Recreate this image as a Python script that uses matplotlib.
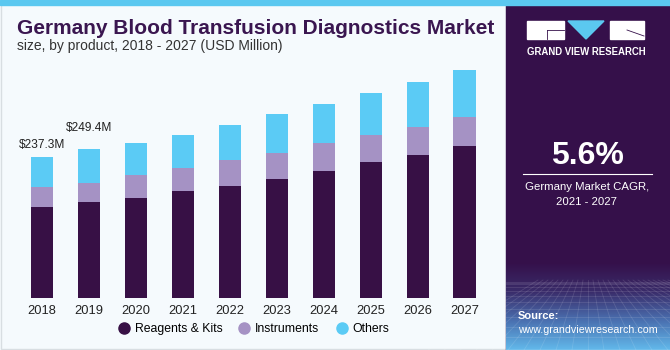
import numpy as np
import matplotlib.pyplot as plt
from matplotlib.patches import Rectangle, Polygon
from matplotlib.lines import Line2D
from matplotlib.colors import LinearSegmentedColormap

plt.rcParams['font.family'] = ['Liberation Sans', 'DejaVu Sans']

years = ["2018", "2019", "2020", "2021", "2022", "2023", "2024", "2025", "2026", "2027"]
reagents = [152.3, 160.7, 168.4, 179.2, 188.6, 200.3, 213.2, 227.8, 239.6, 255.2]
instruments = [34.1, 32.9, 38.1, 39.6, 42.6, 43.1, 47.0, 45.3, 47.5, 48.7]
others = [50.9, 55.8, 53.7, 54.4, 59.3, 65.0, 65.0, 70.5, 75.1, 79.4]
labels = {0: "$237.3M", 1: "$249.4M"}
label_gap = {0: 4, 1: 11}  # points above the bar

series_names = ["Reagents & Kits", "Instruments", "Others"]
colors = ["#371045", "#A592C4", "#5BCBF5"]

W, H = 670, 350
fig = plt.figure(figsize=(W / 100, H / 100), dpi=100)

# background layer in pixel coordinates
bg = fig.add_axes([0, 0, 1, 1])
bg.axis("off")
bg.add_patch(Rectangle((0, 0), W, H, color="#F5FAFD", zorder=0))
bg.add_patch(Rectangle((0.5, 4), 505, H - 5, fill=False, ec="#D8DEE2", lw=1, zorder=1))
bg.add_patch(Rectangle((0, 0), W, 4.5, color="#5BC8F0", zorder=2))
bg.add_patch(Rectangle((506, 4.5), W - 506, H - 4.5, color="#35104A", zorder=1))

# bottom gradient of the side panel
cmap = LinearSegmentedColormap.from_list("g", ["#35104A", "#3A2C6A", "#4A70B0", "#62B8EA"])
grad = np.linspace(0, 1, 100).reshape(-1, 1)
bg.imshow(grad, extent=(506, W, 350, 262), origin="upper", cmap=cmap, aspect="auto", zorder=2)
bg.set_xlim(0, W)
bg.set_ylim(H, 0)
for k in range(12):
    yy = 282 + k * k * 0.55
    bg.plot([506, W], [yy, yy], color="white", alpha=0.12, lw=0.6, zorder=3)
for k in range(-10, 22):
    bg.plot([588 + k * 5, 588 + k * 16], [280, 350], color="white", alpha=0.12, lw=0.6, zorder=3)

# logo
bg.add_patch(Rectangle((527, 21), 37, 18, color="white", zorder=4))
bg.plot([547, 564], [30, 30], color="#35104A", lw=0.6, zorder=5)
bg.plot([547, 547], [30, 39], color="#35104A", lw=0.6, zorder=5)
bg.add_patch(Polygon([(568, 21), (604, 21), (586, 39)], color="#5BC8F0", zorder=4))
bg.add_patch(Rectangle((610, 21), 34, 18, color="white", zorder=4))
bg.plot([627, 644], [30, 36], color="#35104A", lw=0.6, zorder=5)
bg.text(586, 52, "GRAND VIEW RESEARCH", color="white", fontsize=6.9, fontweight="bold",
        ha="center", va="center", zorder=5)

# CAGR block
bg.text(587, 156, "5.6%", color="white", fontsize=23, fontweight="bold",
        ha="center", va="center", zorder=5)
bg.plot([523, 652], [174, 174], color="white", lw=0.8, zorder=5)
bg.text(587, 187, "Germany Market CAGR,", color="white", fontsize=8.2, ha="center", va="center", zorder=5)
bg.text(587, 202, "2021 - 2027", color="white", fontsize=8.2, ha="center", va="center", zorder=5)
bg.text(518, 316, "Source:", color="white", fontsize=8, fontweight="bold", ha="left", va="center", zorder=5)
bg.text(518, 330, "www.grandviewresearch.com", color="white", fontsize=7.7, ha="left", va="center", zorder=5)

# titles
bg.text(17, 28, "Germany Blood Transfusion Diagnostics Market", color="#3A1650",
        fontsize=15, fontweight="bold", ha="left", va="center", zorder=5)
bg.text(17, 46, "size, by product, 2018 - 2027 (USD Million)", color="#333333",
        fontsize=10, ha="left", va="center", zorder=5)

# chart
scale = 1.679  # value units per pixel
top_px, bot_px = 60, 298
left_px, right_px = 18.5, 488
ax = fig.add_axes([left_px / W, 1 - bot_px / H, (right_px - left_px) / W, (bot_px - top_px) / H])
ax.patch.set_alpha(0)
x = np.arange(len(years))
bottom = np.zeros(len(years))
for vals, c in zip([reagents, instruments, others], colors):
    ax.bar(x, vals, 0.47, bottom=bottom, color=c, zorder=3)
    bottom += np.array(vals)
for i, t in labels.items():
    ax.annotate(t, (x[i], bottom[i]), xytext=(0, label_gap[i]), textcoords="offset points",
                ha="center", va="bottom", fontsize=8.6, color="#222222")
ax.set_xlim(-0.5, len(years) - 0.5)
ax.set_ylim(0, (bot_px - top_px) * scale)
ax.set_xticks(x)
ax.set_xticklabels(years, fontsize=9.3, color="#222222")
ax.tick_params(axis="x", length=0, pad=5)
ax.set_yticks([])
for s in ax.spines.values():
    s.set_visible(False)

handles = [Line2D([], [], marker="o", ls="", markersize=8, color=c) for c in colors]
ax.legend(handles, series_names, loc="center", bbox_to_anchor=(254 / W, 1 - 329 / H),
          bbox_transform=fig.transFigure, ncol=3, frameon=False, fontsize=8.8,
          handlelength=0.8, columnspacing=1.4, handletextpad=0.5)

fig.savefig("out.png", dpi=100)
